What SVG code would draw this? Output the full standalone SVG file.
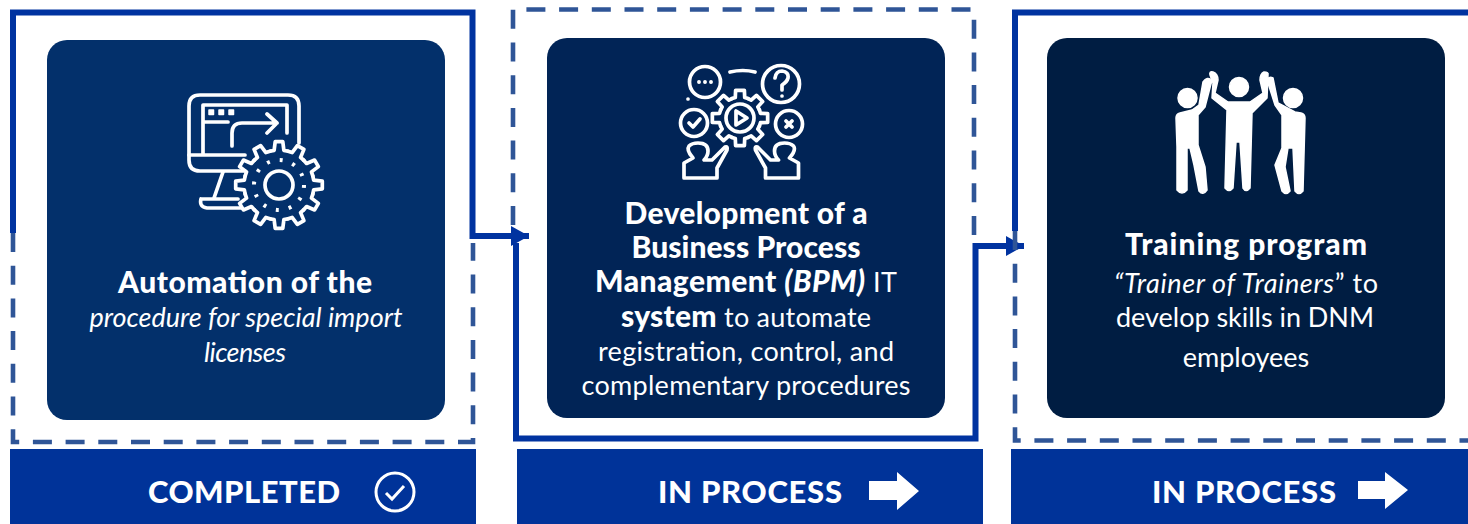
<svg xmlns="http://www.w3.org/2000/svg" width="1468" height="524" viewBox="0 0 1468 524">
<style>
text{font-family:"Lato","Open Sans","Liberation Sans",sans-serif;fill:#fff;text-anchor:middle}
.t{font-size:27px}
.h{font-size:30px;font-weight:900}
.b{font-weight:900}
.i{font-style:italic}
.s{font-size:31px;font-weight:900}
.solid{fill:none;stroke:#0033a0;stroke-width:6}
.dash{fill:none;stroke:#2f5597;stroke-width:4.6;stroke-dasharray:19 13.7}
.ic{fill:none;stroke:#fff;stroke-width:3.7;stroke-linejoin:round;stroke-linecap:round}
.w{fill:#fff;stroke:#fff;stroke-width:1.5;stroke-linejoin:round}
</style>
<defs>
<marker id="ah" markerUnits="userSpaceOnUse" markerWidth="18" markerHeight="20" refX="18" refY="10" orient="auto"><path d="M0 0 18 10 0 20z" fill="#0033a0"/></marker>
<path id="t1" d="M-9.06-33.8-4.87-34.66-3.8-43.3H3.8L4.87-34.66 9.06-33.8"/>
<path id="t2" d="M-8.04-19.4-4.72-20.46-4.38-27.65H4.38L4.72-20.46 8.04-19.4"/>
</defs>
<g id="connectors">
<path class="solid" d="M13 233V12.5H472.5V236H529" marker-end="url(#ah)"/>
<path class="solid" d="M516 243V438.5H975.5V246H1024" marker-end="url(#ah)"/>
<path class="solid" d="M1015 231V12.5H1468"/>
<path class="dash" d="M13 233V442H473V243"/>
<path class="dash" d="M513 225V9.5H974V240"/>
<path class="dash" d="M1015 231V440.5H1468"/>
</g>
<g id="card1">
<rect x="47" y="40" width="398" height="380" rx="20" fill="#03306b"/>
<g class="ic">
<path d="M245 171H200Q189 171 189 160V106Q189 95 200 95H288Q299 95 299 106V143"/>
<path d="M189 155H245M203 155V105H287V133M203 122H228M232 146V133Q232 123 242 123H277M267 114 277 123 267 133M223 172 214 198M201 199H238M201 199Q199 207 207 208H241"/>
<g transform="translate(279 185)">
<use href="#t1"/><use href="#t1" transform="rotate(30)"/><use href="#t1" transform="rotate(60)"/><use href="#t1" transform="rotate(90)"/><use href="#t1" transform="rotate(120)"/><use href="#t1" transform="rotate(150)"/><use href="#t1" transform="rotate(180)"/><use href="#t1" transform="rotate(210)"/><use href="#t1" transform="rotate(240)"/><use href="#t1" transform="rotate(270)"/><use href="#t1" transform="rotate(300)"/><use href="#t1" transform="rotate(330)"/>
<circle r="14"/>
<circle r="25" stroke-width="4" stroke-dasharray="3 10.09" stroke-linecap="butt"/>
</g>
</g>
<rect class="w" x="209" y="110" width="4.5" height="4.5"/><rect class="w" x="219" y="110" width="4.5" height="4.5"/><rect class="w" x="229" y="110" width="4.5" height="4.5"/>
<text class="h" x="245" y="293" textLength="254">Automation of the</text>
<text class="t i" x="246" y="327">procedure for special import</text>
<text class="t i" x="245" y="362" textLength="82">licenses</text>
</g>
<g id="card2">
<rect x="547" y="38" width="398" height="380" rx="20" fill="#012456"/>
<g class="ic">
<circle cx="705" cy="82" r="15.5"/>
<circle cx="781" cy="84" r="18.5"/>
<path d="M730 72Q743 69 755 72M775 78Q776 71 782 71 789 72 788 78 787 82 782 85V90M782 96V96M688 99V99"/>
<circle cx="694" cy="123" r="13.5"/>
<circle cx="789" cy="124" r="13.5"/>
<path d="M689 123 693 127 700 119"/>
<path d="M786 121 792 127M792 121 786 127" stroke-width="3.8"/>
<g transform="translate(740 118)">
<use href="#t2"/><use href="#t2" transform="rotate(45)"/><use href="#t2" transform="rotate(90)"/><use href="#t2" transform="rotate(135)"/><use href="#t2" transform="rotate(180)"/><use href="#t2" transform="rotate(225)"/><use href="#t2" transform="rotate(270)"/><use href="#t2" transform="rotate(315)"/>
<circle r="14"/>
<path d="M-4-7V7L7 0Z"/>
</g>
<path d="M684 178V163L693 158Q686 150 689 146 692 143 698 143 708 143 708 151 708 156 704 160L712 160 725 147Q728 146 727 150L717 168V178Z"/>
<path d="M684 178V163L693 158Q686 150 689 146 692 143 698 143 708 143 708 151 708 156 704 160L712 160 725 147Q728 146 727 150L717 168V178Z" transform="translate(1482.5 0) scale(-1 1)"/>
</g>
<g class="w"><circle cx="699" cy="82" r="1.2"/><circle cx="705" cy="82" r="1.2"/><circle cx="711" cy="82" r="1.2"/></g>
<text class="h" x="746" y="224" textLength="243">Development of a</text>
<text class="h" x="746" y="258" textLength="229">Business Process</text>
<text class="t" x="746" y="292" textLength="302"><tspan class="b" font-size="30">Management </tspan><tspan class="b i" font-size="30">(BPM)</tspan> IT</text>
<text class="t" x="746" y="327" textLength="250"><tspan class="b" font-size="30">system</tspan> to automate</text>
<text class="t" x="746" y="361" textLength="296">registration, control, and</text>
<text class="t" x="746" y="395" textLength="329">complementary procedures</text>
</g>
<g id="card3">
<rect x="1047" y="38" width="398" height="380" rx="20" fill="#001d42"/>
<g class="w">
<circle cx="1187.5" cy="98" r="9.5"/><circle cx="1239" cy="87" r="9.5"/><circle cx="1293" cy="98" r="9.5"/>
<path d="M1176 118Q1176 114 1180 113L1192 110 1199 105 1203 82Q1207 76 1212 80L1205 107 1198 115V145L1205 167 1207 190Q1203 196 1199 191L1194 165 1190 148H1187V190Q1182 196 1177 190V147Z"/>
<path d="M1210 75Q1209 71 1213 72 1218 74 1218 80L1215 93 1228 102H1250L1263 93 1260 80Q1260 74 1264 72 1269 72 1268 75L1267 98 1252 113 1250 188Q1246 193 1243 188L1240 142H1236L1233 188Q1229 193 1225 188L1227 110 1212 98 1213 83Z"/>
<path d="M1305 118Q1305 114 1301 113L1295 112 1278 103 1273 78Q1269 76 1267 80L1275 105 1282 115V148L1275 165 1282 191Q1286 196 1290 191L1285 167 1288 148H1293L1295 191Q1299 196 1303 191Z"/>
</g>
<text class="h" x="1246" y="255" textLength="242">Training program</text>
<text class="t" x="1246" y="293" textLength="264"><tspan class="i">“Trainer of Trainers</tspan>” to</text>
<text class="t" x="1245" y="327" textLength="258">develop skills in DNM</text>
<text class="t" x="1246" y="367">employees</text>
</g>
<g id="status1">
<rect x="10" y="449" width="466" height="75" fill="#003399"/>
<text class="s" x="244" y="503" textLength="192">COMPLETED</text>
<circle cx="395" cy="492" r="19" fill="none" stroke="#fff" stroke-width="3"/>
<path d="M386 493 392 499 404 486" fill="none" stroke="#fff" stroke-width="3"/>
</g>
<g id="status2">
<rect x="517" y="449" width="466" height="75" fill="#003399"/>
<text class="s" x="750" y="503" textLength="184">IN PROCESS</text>
<path d="M869 481H897V472L919 491 897 510V500H869Z" fill="#fff"/>
</g>
<g id="status3">
<rect x="1011" y="449" width="457" height="75" fill="#003399"/>
<text class="s" x="1244" y="503" textLength="184">IN PROCESS</text>
<path d="M1358 481H1385V472L1408 490 1385 509V499H1358Z" fill="#fff"/>
</g>
</svg>
